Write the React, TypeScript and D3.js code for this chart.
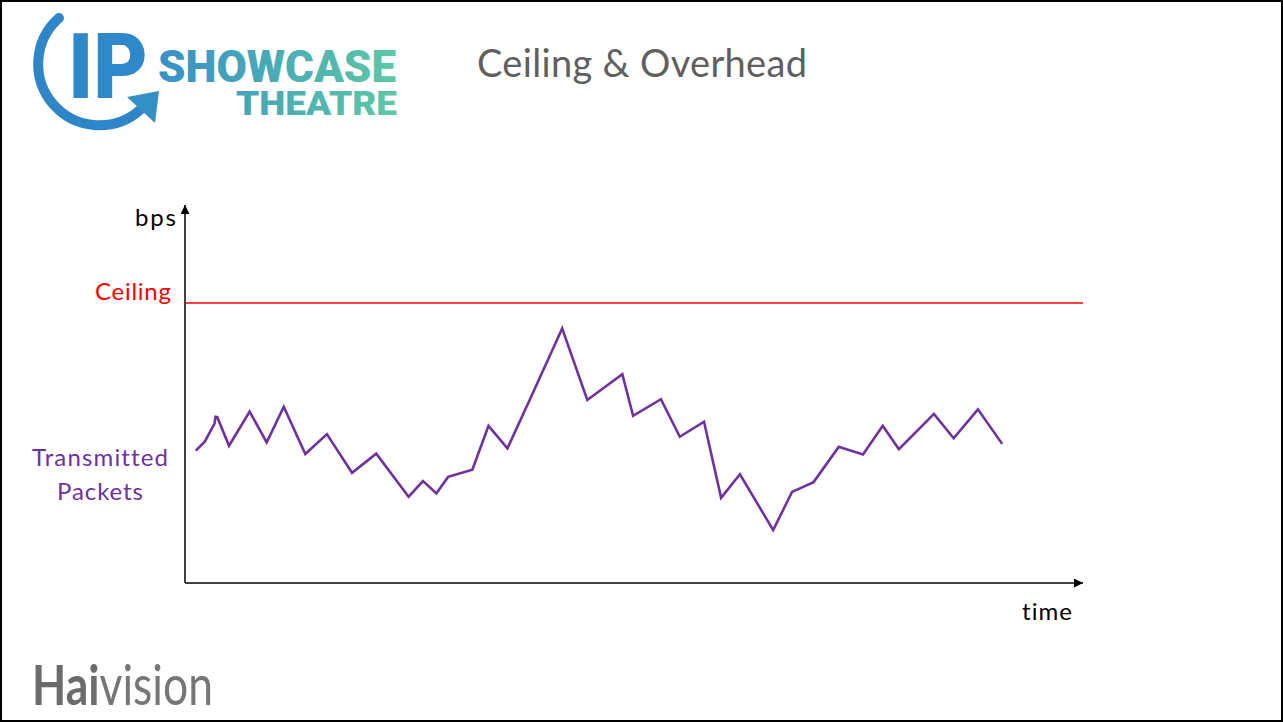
import * as d3 from "d3";
import { useEffect } from "react";

// time (percent of axis) and bps (percent of axis height)
const times = [
  1.2, 2.2, 3.3, 3.4, 3.6, 4.9, 7.2, 9.1, 11.0, 13.4, 15.8, 18.6, 21.3, 24.9,
  26.5, 28.0, 29.3, 32.0, 33.8, 35.9, 38.8, 42.0, 44.8, 48.7, 49.9, 53.0, 55.1,
  57.8, 59.7, 61.8, 65.5, 67.6, 70.0, 72.8, 75.5, 77.7, 79.5, 83.4, 85.6, 88.3,
  91.0,
];
const packets = [
  35.3, 37.7, 42.6, 44.3, 44.2, 36.6, 45.7, 37.5, 47.0, 34.4, 39.7, 29.4, 34.5,
  23.0, 27.2, 23.9, 28.3, 30.2, 41.9, 35.9, 51.0, 67.9, 48.8, 55.7, 44.6, 49.0,
  39.0, 43.0, 22.7, 29.0, 14.1, 24.3, 26.9, 36.3, 34.3, 41.9, 35.7, 45.1, 38.6,
  46.3, 37.1,
];
const ceiling = 74.7;

const W = 1283;
const H = 722;
const FONT = "Lato, 'Open Sans', sans-serif";
const PURPLE = "#7030A0";

export default function App() {
  useEffect(() => {
    document.body.style.margin = "0";
  }, []);

  const x = d3.scaleLinear().domain([0, 100]).range([185, 1083]);
  const y = d3.scaleLinear().domain([0, 100]).range([583, 208]);

  const pts: [number, number][] = times.map((t, i) => [t, packets[i]]);
  const line = d3
    .line<[number, number]>()
    .x((d) => x(d[0]))
    .y((d) => y(d[1]));

  return (
    <svg
      width={W}
      height={H}
      style={{ display: "block", background: "#fff", fontVariantLigatures: "none" }}
    >
      <defs>
        <marker
          id="arrow"
          viewBox="0 0 10 10"
          refX="10"
          refY="5"
          markerWidth="6"
          markerHeight="6"
          markerUnits="strokeWidth"
          orient="auto"
        >
          <path d="M0,0 L10,5 L0,10 z" fill="#000" />
        </marker>
        <linearGradient id="brand" x1="158" x2="397" y1="0" y2="0" gradientUnits="userSpaceOnUse">
          <stop offset="0" stopColor="#3790C6" />
          <stop offset="1" stopColor="#5EC8A4" />
        </linearGradient>
      </defs>

      {/* logo */}
      <g>
        <path
          d="M59,18 A61,61 0 1 0 140,110"
          fill="none"
          stroke="#2E86C8"
          strokeWidth={10}
          strokeLinecap="round"
        />
        <path d="M127,97 L159,91 L155,123 z" fill="#3290C6" />
        <text
          x={68}
          y={98}
          fontFamily="Roboto, sans-serif"
          fontWeight={900}
          fontSize={90}
          fill="#2E88C9"
          textLength={80}
          lengthAdjust="spacingAndGlyphs"
        >
          IP
        </text>
        <text
          x={158}
          y={82}
          fontFamily="Roboto, sans-serif"
          fontWeight={900}
          fontSize={44}
          fill="url(#brand)"
          textLength={238}
          lengthAdjust="spacingAndGlyphs"
        >
          SHOWCASE
        </text>
        <text
          x={236}
          y={115}
          fontFamily="Roboto, sans-serif"
          fontWeight={900}
          fontSize={34}
          fill="url(#brand)"
          textLength={161}
          lengthAdjust="spacingAndGlyphs"
        >
          THEATRE
        </text>
      </g>

      {/* title */}
      <text x={477} y={77} fontFamily={FONT} fontSize={38} fill="#5f5f5f" textLength={330}>
        Ceiling &amp; Overhead
      </text>

      {/* axes */}
      <line
        x1={x(0)}
        y1={y(0)}
        x2={x(0)}
        y2={y(100) - 3}
        stroke="#000"
        strokeWidth={1.5}
        markerEnd="url(#arrow)"
      />
      <line
        x1={x(0)}
        y1={y(0)}
        x2={x(100)}
        y2={y(0)}
        stroke="#000"
        strokeWidth={1.5}
        markerEnd="url(#arrow)"
      />

      {/* ceiling */}
      <line x1={x(0)} x2={x(100)} y1={y(ceiling)} y2={y(ceiling)} stroke="#FF0000" strokeWidth={1.5} />

      {/* transmitted packets */}
      <path d={line(pts) || ""} fill="none" stroke={PURPLE} strokeWidth={2.6} strokeLinejoin="miter" />

      {/* labels */}
      <text x={176} y={226} textAnchor="end" fontFamily={FONT} fontSize={24} fill="#000" textLength={41}>
        bps
      </text>
      <text x={171} y={300} textAnchor="end" fontFamily={FONT} fontSize={24} fill="#FF0000" textLength={76}>
        Ceiling
      </text>
      <text x={100} y={466} textAnchor="middle" fontFamily={FONT} fontSize={24} fill={PURPLE} textLength={136}>
        Transmitted
      </text>
      <text x={100} y={500} textAnchor="middle" fontFamily={FONT} fontSize={24} fill={PURPLE} textLength={86}>
        Packets
      </text>
      <text x={1022} y={620} fontFamily={FONT} fontSize={24} fill="#000" textLength={50}>
        time
      </text>

      {/* footer logo */}
      <text
        x={32}
        y={705}
        fontFamily={FONT}
        fontSize={56}
        fill="#6b6b6b"
        textLength={181}
        lengthAdjust="spacingAndGlyphs"
      >
        <tspan fontWeight={700}>Hai</tspan>
        <tspan fontWeight={400} fill="#767676">vision</tspan>
      </text>

      {/* frame */}
      <rect x={1} y={1} width={W - 2} height={H - 2} fill="none" stroke="#000" strokeWidth={2} />
    </svg>
  );
}
